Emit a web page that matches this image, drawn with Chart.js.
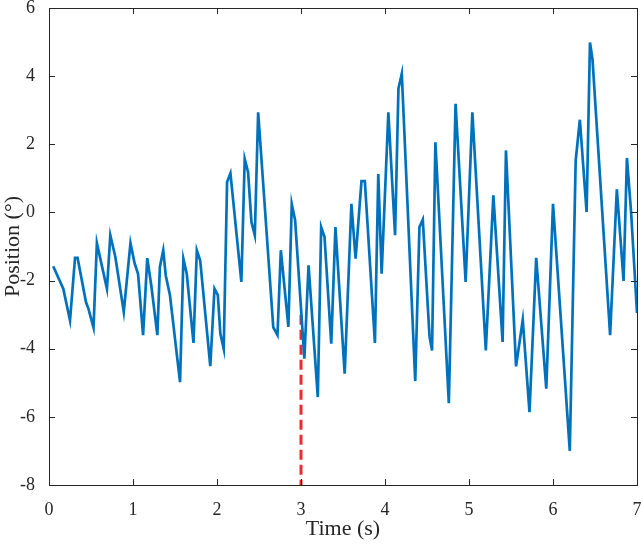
<!DOCTYPE html>
<html>
<head>
<meta charset="utf-8">
<script src="https://cdn.jsdelivr.net/npm/chart.js@4/dist/chart.umd.min.js"></script>
<style>
  html, body { margin: 0; padding: 0; background: #fff; }
  #wrap { width: 641px; height: 544px; }
</style>
</head>
<body>
<div id="wrap"><canvas id="chartPos" width="641" height="544"></canvas></div>
<script>
'use strict';

/* ── Données ── */
var TIMES = [
    0.05, 0.17, 0.25, 0.31, 0.34, 0.44, 0.47, 0.53, 0.57, 0.69,
    0.73, 0.79, 0.89, 0.97, 1.02, 1.06, 1.12, 1.17, 1.22, 1.29,
    1.32, 1.36, 1.39, 1.44, 1.56, 1.60, 1.64, 1.72, 1.76, 1.80,
    1.92, 1.97, 2.01, 2.04, 2.08, 2.12, 2.16, 2.29, 2.33, 2.37,
    2.41, 2.45, 2.49, 2.67, 2.72, 2.76, 2.85, 2.89, 2.93, 3.04,
    3.09, 3.20, 3.24, 3.28, 3.36, 3.41, 3.52, 3.60, 3.65, 3.72,
    3.76, 3.88, 3.92, 3.96, 4.04, 4.12, 4.16, 4.20, 4.36, 4.41,
    4.45, 4.53, 4.56, 4.60, 4.76, 4.84, 4.96, 5.04, 5.20, 5.29,
    5.40, 5.44, 5.56, 5.64, 5.72, 5.80, 5.92, 6.00, 6.20, 6.27,
    6.32, 6.40, 6.44, 6.47, 6.68, 6.76, 6.84, 6.88, 6.93, 7.00
];
var POSITIONS = [
    -1.58, -2.24, -3.17, -1.33, -1.33, -2.63, -2.83, -3.38, -0.90, -2.24,
    -0.67, -1.31, -2.92, -0.90, -1.50, -1.80, -3.60, -1.34, -2.19, -3.60,
    -1.60, -1.11, -1.85, -2.43, -4.98, -1.36, -1.80, -3.83, -1.11, -1.41,
    -4.51, -2.24, -2.43, -3.56, -4.00, 0.89, 1.15, -2.04, 1.57, 1.18,
    -0.28, -0.67, 2.94, -3.37, -3.60, -1.11, -3.36, 0.25, -0.23, -4.29,
    -1.55, -5.42, -0.43, -0.72, -3.85, -0.43, -4.73, 0.25, -1.36, 0.92,
    0.92, -3.83, 1.13, -1.80, 2.94, -0.67, 3.63, 4.07, -4.95, -0.43,
    -0.21, -3.64, -4.05, 2.06, -5.60, 3.19, -2.04, 2.94, -4.05, 0.50,
    -3.80, 1.82, -4.52, -3.15, -5.86, -1.33, -5.17, 0.25, -7.00, 1.52,
    2.72, 0.01, 4.99, 4.50, -3.60, 0.68, -2.01, 1.60, 0.00, -2.95
];
/* Repère vertical pointillé à t = 3 s */
var MARK_TIMES = [3, 3];
var MARK_POSITIONS = [-3, -8];

var X_TICKS = [0, 1, 2, 3, 4, 5, 6, 7];
var Y_TICKS = [-8, -6, -4, -2, 0, 2, 4, 6];

var AXIS_COLOR = '#262626';
var FONT = 'Liberation Serif, "Times New Roman", serif';

function toPoints(xs, ys) {
    return xs.map(function (x, i) { return { x: x, y: ys[i] }; });
}

/* Cadre + graduations intérieures façon MATLAB */
var boxPlugin = {
    id: 'boxTicks',
    afterDatasetsDraw: function (chart) {
        var a = chart.chartArea, c = chart.ctx;
        var sx = chart.scales.x, sy = chart.scales.y;
        var tl = 6;
        c.save();
        c.strokeStyle = AXIS_COLOR;
        c.lineWidth = 1;
        c.beginPath();
        X_TICKS.forEach(function (v) {
            var px = Math.round(sx.getPixelForValue(v)) + 0.5;
            c.moveTo(px, a.bottom); c.lineTo(px, a.bottom - tl);
            c.moveTo(px, a.top); c.lineTo(px, a.top + tl);
        });
        Y_TICKS.forEach(function (v) {
            var py = Math.round(sy.getPixelForValue(v)) + 0.5;
            c.moveTo(a.left, py); c.lineTo(a.left + tl, py);
            c.moveTo(a.right, py); c.lineTo(a.right - tl, py);
        });
        c.stroke();
        c.strokeRect(Math.round(a.left) + 0.5, Math.round(a.top) + 0.5,
            Math.round(a.right - a.left), Math.round(a.bottom - a.top));
        c.restore();
    }
};

new Chart(document.getElementById('chartPos'), {
    type: 'line',
    data: {
        datasets: [
            {
                data: toPoints(TIMES, POSITIONS),
                borderColor: '#0072BD',
                borderWidth: 2.7,
                pointRadius: 0,
                tension: 0,
                fill: false
            },
            {
                data: toPoints(MARK_TIMES, MARK_POSITIONS),
                borderColor: '#EE2A2F',
                borderWidth: 3,
                borderDash: [10, 5],
                pointRadius: 0,
                fill: false
            }
        ]
    },
    options: {
        responsive: false,
        animation: false,
        layout: { padding: { top: 8, right: 4, left: 0, bottom: 0 } },
        plugins: { legend: { display: false }, tooltip: { enabled: false } },
        scales: {
            x: {
                type: 'linear',
                min: 0,
                max: 7,
                afterFit: function (s) { s.height = 59; s.paddingLeft = 0; s.paddingRight = 0; },
                afterBuildTicks: function (s) { s.ticks = X_TICKS.map(function (v) { return { value: v }; }); },
                grid: { display: false },
                border: { display: false },
                ticks: { color: AXIS_COLOR, padding: 6, maxRotation: 0, font: { family: FONT, size: 18 } },
                title: {
                    display: true,
                    text: 'Time (s)',
                    color: AXIS_COLOR,
                    padding: { top: 0, bottom: 2 },
                    font: { family: FONT, size: 22 }
                }
            },
            y: {
                type: 'linear',
                min: -8,
                max: 6,
                afterFit: function (s) { s.width = 49; s.paddingTop = 0; s.paddingBottom = 0; },
                afterBuildTicks: function (s) { s.ticks = Y_TICKS.map(function (v) { return { value: v }; }); },
                grid: { display: false },
                border: { display: false },
                ticks: { color: AXIS_COLOR, padding: 6, font: { family: FONT, size: 18 } },
                title: {
                    display: true,
                    text: 'Position (°)',
                    color: AXIS_COLOR,
                    padding: { top: 0, bottom: 0 },
                    font: { family: FONT, size: 22 }
                }
            }
        }
    },
    plugins: [boxPlugin]
});
</script>
</body>
</html>
